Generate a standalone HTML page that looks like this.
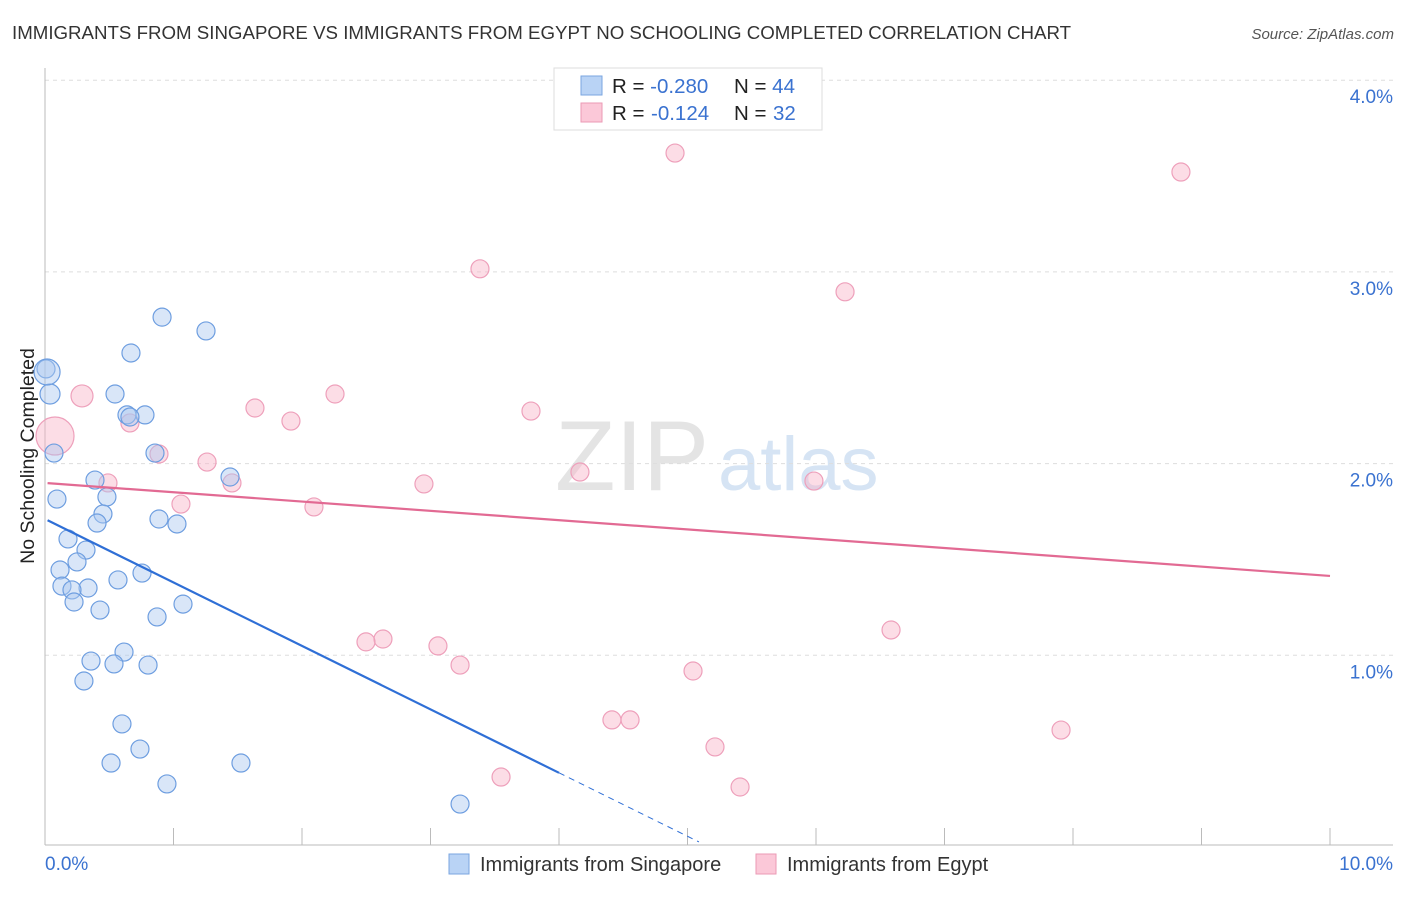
<!DOCTYPE html>
<html><head><meta charset="utf-8"><style>
body{margin:0;background:#fff;font-family:"Liberation Sans",sans-serif}
svg text{font-family:"Liberation Sans",sans-serif}
</style></head><body>
<svg id="c" width="1406" height="892">
<text x="12" y="39" font-size="18.7" fill="#333">IMMIGRANTS FROM SINGAPORE VS IMMIGRANTS FROM EGYPT NO SCHOOLING COMPLETED CORRELATION CHART</text>
<text x="1394" y="39" font-size="15" fill="#555" font-style="italic" text-anchor="end">Source: ZipAtlas.com</text>
<text x="34" y="456" font-size="19.5" fill="#222" text-anchor="middle" transform="rotate(-90 34 456)">No Schooling Completed</text>
<text x="555" y="490" font-size="99" fill="#e4e4e4" font-family="Liberation Serif">ZIP</text>
<text x="718" y="490" font-size="76" fill="#d6e4f4">atlas</text>
<g id="grid"></g><g id="axes"></g><g id="pts"></g><g id="lines"></g>
<g>
<rect x="554" y="68" width="268" height="62" fill="#fff" stroke="#ddd"/>
<rect x="581" y="76" width="21" height="19" fill="#b9d3f5" stroke="#7aa6e0"/>
<rect x="581" y="103" width="21" height="19" fill="#fbc8d8" stroke="#eb9ab5"/>
<text x="612" y="93" font-size="20.5" fill="#222">R = <tspan fill="#3a72d0">-0.280</tspan><tspan x="734">N = </tspan><tspan fill="#3a72d0">44</tspan></text>
<text x="612" y="120" font-size="20.5" fill="#222">R = <tspan fill="#3a72d0" x="651">-0.124</tspan><tspan x="734">N = </tspan><tspan fill="#3a72d0" x="773">32</tspan></text>
</g>
<g>
<rect x="449" y="854" width="20" height="20" fill="#b9d3f5" stroke="#7aa6e0"/>
<text x="480" y="871" font-size="20" fill="#333">Immigrants from Singapore</text>
<rect x="756" y="854" width="20" height="20" fill="#fbc8d8" stroke="#eb9ab5"/>
<text x="787" y="871" font-size="20" fill="#333">Immigrants from Egypt</text>
</g>
</svg>
<script>
const yTicks=[1,2,3,4];
const yTickLabels=["1.0%","2.0%","3.0%","4.0%"];
const xTickLabels=["0.0%","10.0%"];
const blueX=[0.911,1.253,0.669,0.008,0.039,0.545,0.638,0.778,0.070,0.856,1.440,0.389,0.482,0.093,0.451,0.887,0.405,1.027,0.179,0.319,0.249,0.117,0.755,0.568,0.132,0.335,0.210,0.226,1.074,0.428,0.872,0.615,0.358,0.537,0.802,0.303,0.599,0.739,0.514,1.525,0.949,3.230,0.661,0.016];
const blueY=[2.764,2.692,2.577,2.494,2.363,2.363,2.254,2.254,2.055,2.055,1.930,1.914,1.826,1.815,1.737,1.711,1.690,1.685,1.607,1.549,1.487,1.445,1.429,1.393,1.361,1.351,1.341,1.278,1.267,1.236,1.200,1.017,0.970,0.955,0.949,0.866,0.642,0.511,0.438,0.438,0.329,0.224,2.243,2.478];
const pinkX=[4.903,8.840,3.385,6.226,0.288,2.257,1.634,3.782,1.914,0.661,0.078,0.887,1.261,4.163,1.455,5.984,2.949,0.490,1.058,2.093,2.630,2.498,3.058,3.230,6.584,5.043,4.412,4.553,7.907,5.214,3.549,5.409];
const pinkY=[3.620,3.521,3.016,2.896,2.353,2.363,2.290,2.274,2.222,2.212,2.144,2.050,2.008,1.956,1.899,1.909,1.894,1.899,1.789,1.774,1.085,1.070,1.049,0.949,1.132,0.918,0.663,0.663,0.610,0.522,0.365,0.313];
const pinkSize=[9,9,9,9,11,9,9,9,9,9,19,9,9,9,9,9,9,9,9,9,9,9,9,9,9,9,9,9,9,9,9,9];
const blueSize=[9,9,9,9,10,9,9,9,9,9,9,9,9,9,9,9,9,9,9,9,9,9,9,9,9,9,9,9,9,9,9,9,9,9,9,9,9,9,9,9,9,9,9,13];
const blueTrend=[1.711,-0.331];
const pinkTrend=[1.899,-0.0485];
const sx=v=>45+v*128.5, sy=v=>847-v*191.7;
const NS="http://www.w3.org/2000/svg";
function mk(p,t,a){const e=document.createElementNS(NS,t);for(const k in a)e.setAttribute(k,a[k]);document.getElementById(p).appendChild(e);return e;}
yTicks.forEach((v,i)=>{
 const g=mk("grid","line",{x1:45,x2:1393,y1:sy(v),y2:sy(v),stroke:"#ddd","stroke-dasharray":"4 4"});
 
 
 const t=mk("grid","text",{x:1393,y:sy(v)+23,"font-size":19,fill:"#3a72d0","text-anchor":"end"});
 t.textContent=yTickLabels[i];
 
 
});
const ax=mk("axes","line",{x1:45,x2:45,y1:68,y2:845,stroke:"#bbb"});


const bx=mk("axes","line",{x1:45,x2:1393,y1:845,y2:845,stroke:"#bbb"});


for(let i=0;i<=10;i++){const l=mk("axes","line",{x1:sx(i),x2:sx(i),y1:828,y2:845,stroke:"#bbb"});
 
 }
[[0,"start",45],[10,"end",1393]].forEach((d,i)=>{const t=mk("axes","text",{x:d[2],y:870,"font-size":19,fill:"#3a72d0","text-anchor":d[1]});t.textContent=xTickLabels[i];
 
 });
pinkX.forEach((x,i)=>{const c=mk("pts","circle",{cx:sx(x),cy:sy(pinkY[i]),r:pinkSize[i],fill:"rgba(248,180,200,0.45)",stroke:"#eea0bb","stroke-width":1.2});
 
 });
blueX.forEach((x,i)=>{const c=mk("pts","circle",{cx:sx(x),cy:sy(blueY[i]),r:blueSize[i],fill:"rgba(170,200,240,0.45)",stroke:"#6e9ee0","stroke-width":1.2});
 
 });
const bEnd=4.0, bZero=-blueTrend[0]/blueTrend[1]-0.08;
const b1=mk("lines","line",{x1:sx(0.02),y1:sy(blueTrend[0]+blueTrend[1]*0.02),x2:sx(bEnd),y2:sy(blueTrend[0]+blueTrend[1]*bEnd),stroke:"#2f6fd6","stroke-width":2.2});


const b2=mk("lines","line",{x1:sx(bEnd),y1:sy(blueTrend[0]+blueTrend[1]*bEnd),x2:sx(bZero),y2:sy(blueTrend[0]+blueTrend[1]*bZero),stroke:"#2f6fd6","stroke-width":1,"stroke-dasharray":"6 5"});


const p1=mk("lines","line",{x1:sx(0.02),y1:sy(pinkTrend[0]+pinkTrend[1]*0.02),x2:sx(10),y2:sy(pinkTrend[0]+pinkTrend[1]*10),stroke:"#e26a93","stroke-width":2.2});


</script>
</body></html>
